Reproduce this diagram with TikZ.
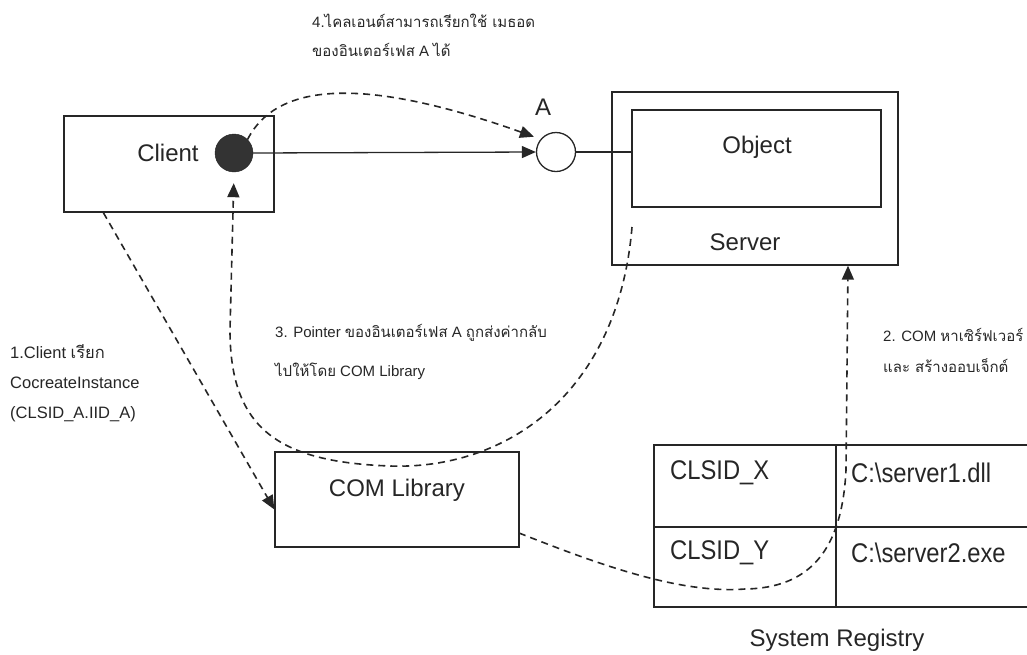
\documentclass[tikz,border=0pt]{standalone}
\usepackage{fontspec}
\setmainfont{Liberation Sans}
\newfontfamily\thaifont[Script=Thai]{Loma}
\usetikzlibrary{arrows.meta}

% narrow, tall lettering used inside the registry table
\newcommand{\regtext}[1]{\scalebox{0.88}[1]{\fontsize{27}{30}\selectfont #1}}

\begin{document}
\begin{tikzpicture}[x=1pt, y=-1pt,
  box/.style={draw=black!85, line width=1.3pt, inner sep=0pt},
  big/.style={text=black!85, font=\fontsize{24}{28}\selectfont, inner sep=0pt},
  cell/.style={text=black!85, anchor=west, inner sep=0pt},
  note/.style={text=black!85, font=\fontsize{15}{18}\selectfont, anchor=base west, inner sep=0pt},
  notel/.style={note, font=\fontsize{16.5}{20}\selectfont},
  dashline/.style={draw=black!85, line width=1.6pt, dash pattern=on 7pt off 5pt},
  solidline/.style={draw=black!85, line width=1.3pt},
  tip/.style={-{Triangle[length=14pt,width=12pt]}},
]
\useasboundingbox (0,0) rectangle (1027,654);

% ---- boxes ----
\node[box, minimum width=210pt, minimum height=96pt] (client) at (169,164) {};
\node[box, minimum width=286pt, minimum height=173pt] (server) at (755,178.5) {};
\node[box, minimum width=249pt, minimum height=97pt] (object) at (756.5,158.5) {};
\node[box, minimum width=244pt, minimum height=95pt] (comlib) at (397,499.5) {};

\node[big] (tclient) at (168,153) {Client};
\node[big] (tobject) at (757,147) {Object};
\node[big] (tserver) at (745,242) {Server};
\node[big] (tcomlib) at (397,490) {COM Library};

% ---- interface pointer and interface A ----
\node[circle, draw=black!85, fill=black!80, minimum size=38pt, inner sep=0pt] (dot) at (234,153) {};
\node[circle, draw=black!85, line width=1.3pt, fill=white, minimum size=39pt, inner sep=0pt] (ia) at (556,152) {};
\node[big] (la) at (543,107) {A};

% ---- system registry table ----
\draw[solidline] (1030,445) -- (654,445) -- (654,607) -- (1030,607);
\draw[solidline] (654,527) -- (1030,527);
\draw[solidline] (836,445) -- (836,607);
\node[cell] (clx) at (670,473) {\regtext{CLSID\_X}};
\node[cell] (cly) at (670,553) {\regtext{CLSID\_Y}};
\node[cell] (sv1) at (851,473) {\regtext{C:\textbackslash server1.dll}};
\node[cell] (sv2) at (851,553) {\regtext{C:\textbackslash server2.exe}};
\node[big] (reg) at (837,640) {System Registry};

% ---- free ends of the dashed paths ----
\coordinate (a1s) at ([xshift=40pt]client.south west);
\coordinate (a1e) at ([yshift=-10pt]comlib.west);
\coordinate (s3) at (632,227);
\coordinate (m3) at (390,466);
\coordinate (k3) at (230,330);
\coordinate (s2) at (519,533);
\coordinate (m2) at (745,589);
\coordinate (k2) at (846,470);
\coordinate (e2) at ([xshift=93pt]server.south);

% ---- connectors ----
\draw[solidline, tip] (dot.east) -- (ia.west);
\draw[solidline] (ia.east) -- (ia.east -| object.west);
\draw[dashline, tip, shorten >=7pt] (dot.45) .. controls (280,76) and (380,82) .. (ia.140);
\draw[dashline, tip] (a1s) -- (a1e);
\draw[dashline, tip, shorten >=11pt] (s3) .. controls (618,395) and (505,470) .. (m3)
  .. controls (280,462) and (230,430) .. (k3) -- (dot.south);
\draw[dashline, tip] (s2) .. controls (600,565) and (680,594) .. (m2)
  .. controls (810,588) and (842,550) .. (k2) -- (e2);

% ---- step notes ----
\node[note] (n4a) at (312,27) {4.{\thaifont ไคลเอนต์สามารถเรียกใช้ เมธอด}};
\node[note] (n4b) at (312,56) {{\thaifont ของอินเตอร์เฟส} A {\thaifont ได้}};
\node[notel] (n1a) at (10,358) {1.Client {\thaifont เรียก}};
\node[notel] (n1b) at (10,388) {CocreateInstance};
\node[notel] (n1c) at (10,418) {(CLSID\_A.IID\_A)};
\node[note] (n3a) at (275,337) {3. Pointer {\thaifont ของอินเตอร์เฟส} A {\thaifont ถูกส่งค่ากลับ}};
\node[note] (n3b) at (275,376) {{\thaifont ไปให้โดย} COM Library};
\node[note] (n2a) at (883,341) {2. COM {\thaifont หาเซิร์ฟเวอร์}};
\node[note] (n2b) at (883,372) {{\thaifont และ สร้างออบเจ็กต์}};
\end{tikzpicture}
\end{document}
